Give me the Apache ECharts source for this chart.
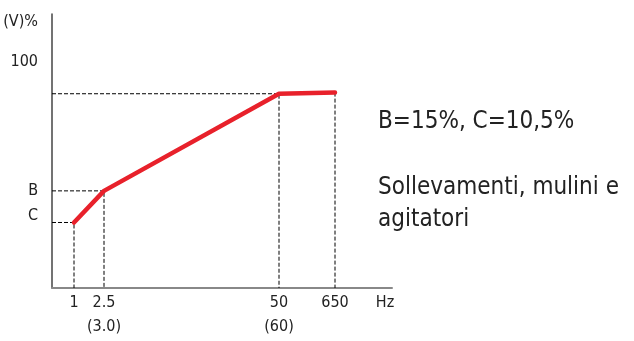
<!DOCTYPE html>
<html>
<head>
<meta charset="utf-8">
<script src="https://cdn.jsdelivr.net/npm/echarts@6/dist/echarts.min.js"></script>
<style>
  html, body { margin: 0; padding: 0; background: #fff; }
  #chart { width: 634px; height: 341px; }
</style>
</head>
<body>
<div id="chart"></div>
<script>
// schematic V/f curve: x positions are in arbitrary axis units (axis runs 0..340)
var freqPos = [22, 52, 227, 283];
var voltPct = [29, 43, 86, 86.5];

// tick labels
var xTickValues = [22, 52, 227, 283, 333];
var xTickLabels = ['1', '2.5\n(3.0)', '50\n(60)', '650', 'Hz'];
var yTickValues = [32, 43, 100, 118];
var yTickLabels = ['C', 'B', '100', '(V)%'];

var FONT = '"Liberation Sans Narrow", "DejaVu Sans Condensed", sans-serif';

var curve = freqPos.map(function (x, i) { return [x, voltPct[i]]; });

// dashed guide lines from the curve points to both axes
var guides = [];
for (var i = 0; i < freqPos.length; i++) {
  var pts = [];
  if (i < 3) pts.push([0, voltPct[i]]);
  pts.push([freqPos[i], voltPct[i]], [freqPos[i], 0]);
  guides.push({
    type: 'line',
    data: pts,
    symbol: 'none',
    silent: true,
    z: 1,
    lineStyle: { color: '#000', width: 1, type: [4, 2] }
  });
}

function lookup(values, labels) {
  return function (v) {
    for (var k = 0; k < values.length; k++) {
      if (Math.abs(values[k] - v) < 0.01) return labels[k];
    }
    return '';
  };
}

var chart = echarts.init(document.getElementById('chart'));
chart.setOption({
  animation: false,
  grid: { left: 52, right: 242, top: 14, bottom: 53 },
  xAxis: {
    type: 'value',
    min: 0,
    max: 340,
    splitLine: { show: false },
    axisTick: { show: false },
    axisLine: { show: true, lineStyle: { color: '#888', width: 2 } },
    axisLabel: {
      customValues: xTickValues,
      formatter: lookup(xTickValues, xTickLabels),
      color: '#222',
      fontFamily: FONT,
      fontSize: 16,
      lineHeight: 24,
      margin: 3
    }
  },
  yAxis: {
    type: 'value',
    min: 0,
    max: 121.3,
    splitLine: { show: false },
    axisTick: { show: false },
    axisLine: { show: true, lineStyle: { color: '#444', width: 1.5 } },
    axisLabel: {
      customValues: yTickValues,
      formatter: lookup(yTickValues, yTickLabels),
      color: '#222',
      fontFamily: FONT,
      fontSize: 16,
      margin: 14
    }
  },
  graphic: [
    {
      type: 'text', left: 378, top: 110,
      style: { text: 'B=15%, C=10,5%', fill: '#222', font: '24px ' + FONT }
    },
    {
      type: 'text', left: 378, top: 172,
      style: { text: 'Sollevamenti, mulini e\nagitatori', fill: '#222', font: '24px ' + FONT, lineHeight: 32 }
    }
  ],
  series: guides.concat([{
    type: 'line',
    data: curve,
    symbol: 'none',
    z: 5,
    lineStyle: { color: '#e8212b', width: 4.5, cap: 'round', join: 'round' }
  }])
});
</script>
</body>
</html>
